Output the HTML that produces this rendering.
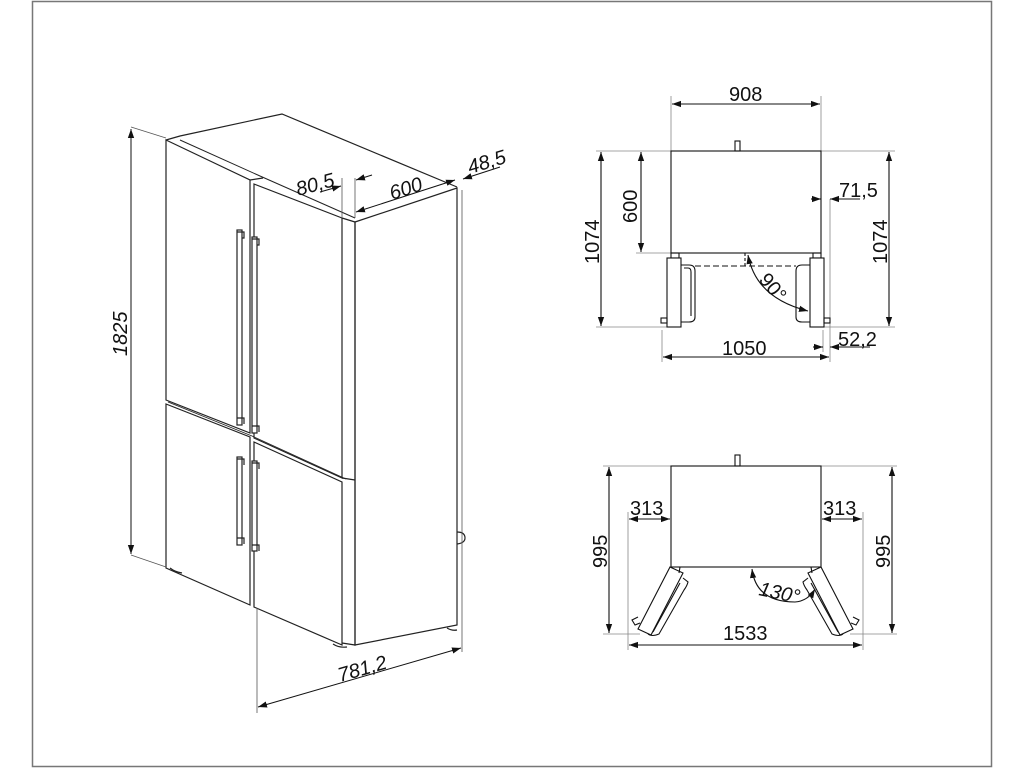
<!DOCTYPE html>
<html><head><meta charset="utf-8"><style>
html,body{margin:0;padding:0;background:#fff;}
svg{display:block;}
text{font-family:"Liberation Sans",Arial,sans-serif;font-size:20px;fill:#111;}
</style></head><body>
<svg width="1024" height="768" viewBox="0 0 1024 768" xmlns="http://www.w3.org/2000/svg">
<defs>
<marker id="a" viewBox="0 0 10 10" refX="10" refY="5" markerWidth="9" markerHeight="9" orient="auto-start-reverse" markerUnits="userSpaceOnUse"><path d="M0,1.5 L10,5 L0,8.5 z" fill="#111"/></marker>
</defs>
<rect x="32.5" y="1.5" width="959" height="765" fill="none" stroke="#777" stroke-width="1.5"/>

<g fill="none" stroke="#222" stroke-width="1.2">
<path d="M166,140 L180,136 L282,114 L457,187"/>
<path d="M180,140 L260,176 M260,176 L355,218" stroke-width="1"/>
<path d="M168,142 L250,180"/>
<path d="M355,222 L457,188 L457,625 L355,645 Z" fill="#fff"/>
<path d="M342,218 L355,222 L355,645 L342,643"/>
<path d="M166,140 L250,180 L250,433 L166,400 Z" fill="#fff"/>
<path d="M254,184 L342,218 L342,478 L254,438 Z" fill="#fff"/>
<path d="M250,180 L263,178"/>
<path d="M166,404 L250,437 L250,605 L166,568 Z" fill="#fff"/>
<path d="M254,442 L342,482 L342,645 L254,607 Z" fill="#fff"/>
<path d="M342,478 L355,480"/>
<path d="M168,402 L252,436 L346,479" stroke-width="0.8"/>
<path d="M170,568 q5,4 12,5 M333,644 q6,4 14,3 M447,628 q5,3 10,2"/>
<path d="M457,532 q8,0 8,6 q0,5 -8,6"/>
<rect x="237" y="230" width="5" height="195" fill="#fff"/>
<path d="M237,232 h7 v6 h-2 M237,418 h7 v6"/>
<rect x="252" y="237" width="5" height="196" fill="#fff"/>
<path d="M252,239 h7 v6 h-2 M252,426 h7 v6"/>
<rect x="237" y="457" width="5" height="88" fill="#fff"/>
<path d="M237,459 h7 v6 M237,538 h7 v6"/>
<rect x="252" y="461" width="5" height="90" fill="#fff"/>
<path d="M252,463 h7 v6 M252,545 h7 v6"/>
</g>
<g stroke="#555" stroke-width="0.8" fill="none">
<path d="M131,127 L166,138 M131,555 L166,567"/>
<path d="M257,608 L257,713 M462,190 L462,652"/>
<path d="M342,218 L342,178 M355,218 L355,178"/>
</g>
<g stroke="#111" stroke-width="1" fill="none">
<line x1="131" y1="129" x2="131" y2="554" marker-start="url(#a)" marker-end="url(#a)"/>
<line x1="258" y1="707" x2="461" y2="648" marker-start="url(#a)" marker-end="url(#a)"/>
<line x1="356" y1="212" x2="455" y2="180" marker-start="url(#a)" marker-end="url(#a)"/>
<line x1="320" y1="192" x2="341" y2="186" marker-end="url(#a)"/>
<line x1="372" y1="175" x2="356" y2="180" marker-end="url(#a)"/>
<line x1="500" y1="167" x2="463" y2="179" marker-end="url(#a)"/>
</g>
<text transform="translate(127,356) rotate(-90)" font-style="italic">1825</text>
<text transform="translate(340,682) rotate(-16)" font-style="italic">781,2</text>
<text transform="translate(392,200) rotate(-18)" font-style="italic">600</text>
<text transform="translate(298,196) rotate(-15)" font-style="italic">80,5</text>
<text transform="translate(470,174) rotate(-17)" font-style="italic" font-size="17">48,5</text>

<g stroke="#888" stroke-width="0.8" fill="none">
<path d="M671,96 V151 M821,96 V151"/>
<path d="M596,151 H671 M821,151 H895"/>
<path d="M636,253 H671"/>
<path d="M596,327 H667 M824,327 H895"/>
<path d="M662,330 V362 M830,199 V362 M823,330 V352"/>
</g>
<g stroke="#111" stroke-width="1.1" fill="none">
<rect x="671" y="151" width="150" height="102" fill="#fff"/>
<rect x="735" y="141" width="5" height="10"/>
<rect x="671" y="253" width="8" height="5"/>
<rect x="813" y="253" width="8" height="5"/>
<rect x="667" y="258" width="14" height="69" fill="#fff"/>
<rect x="810" y="258" width="14" height="69" fill="#fff"/>
<path d="M681,265 h8 q6,0 6,6 v46 q0,5 -6,5 h-8"/>
<path d="M684,268 h4 q3,0 3,4 v44"/>
<path d="M810,265 h-8 q-6,0 -6,6 v46 q0,5 6,5 h8"/>
<rect x="661" y="318" width="6" height="5"/>
<rect x="824" y="318" width="6" height="5"/>
<path d="M695,266 H796" stroke-dasharray="6,3"/>
<path d="M745,253 V266" stroke-dasharray="3,2"/>
<line x1="672" y1="104" x2="820" y2="104" marker-start="url(#a)" marker-end="url(#a)"/>
<line x1="601" y1="152" x2="601" y2="326" marker-start="url(#a)" marker-end="url(#a)"/>
<line x1="641" y1="152" x2="641" y2="252" marker-start="url(#a)" marker-end="url(#a)"/>
<line x1="889" y1="152" x2="889" y2="326" marker-start="url(#a)" marker-end="url(#a)"/>
<line x1="663" y1="357" x2="829" y2="357" marker-start="url(#a)" marker-end="url(#a)"/>
<line x1="811" y1="199" x2="821" y2="199" marker-end="url(#a)"/>
<line x1="860" y1="199" x2="830" y2="199" marker-end="url(#a)"/>
<line x1="813" y1="347" x2="823" y2="347" marker-end="url(#a)"/>
<line x1="870" y1="347" x2="830" y2="347" marker-end="url(#a)"/>
<path d="M748,255 Q756,298 808,311" marker-start="url(#a)" marker-end="url(#a)"/>
</g>
<text x="729" y="101">908</text>
<text transform="translate(599,264) rotate(-90)">1074</text>
<text transform="translate(637,223) rotate(-90)">600</text>
<text transform="translate(887,264) rotate(-90)">1074</text>
<text x="839" y="197">71,5</text>
<text x="722" y="355">1050</text>
<text x="838" y="346">52,2</text>
<text transform="translate(758,280) rotate(50)">90°</text>

<g stroke="#888" stroke-width="0.8" fill="none">
<path d="M603,466 H671 M821,466 H897"/>
<path d="M603,634 H640 M850,634 H897"/>
<path d="M628,512 V650 M863,512 V650"/>
</g>
<g stroke="#111" stroke-width="1.1" fill="none">
<rect x="671" y="466" width="150" height="101" fill="#fff"/>
<rect x="735" y="455" width="5" height="11"/>
<path d="M670,567 L683,573 L651,635 L638,629 Z" fill="#fff"/>
<path d="M676,567 L680,567 L679,573"/>
<path d="M683,578 L688,582 Q687,586 684,590 L659,634 Q652,637 648,634"/>
<path d="M680,583 L653,632"/>
<path d="M638,617 L632,620 L635,625 L640,623"/>
<path d="M821,567 L808,573 L840,635 L853,629 Z" fill="#fff"/>
<path d="M815,567 L811,567 L812,573"/>
<path d="M808,578 L803,582 Q804,586 807,590 L832,634 Q839,637 843,634"/>
<path d="M811,583 L838,632"/>
<path d="M853,617 L859,620 L856,625 L851,623"/>
<line x1="609" y1="467" x2="609" y2="633" marker-start="url(#a)" marker-end="url(#a)"/>
<line x1="892" y1="467" x2="892" y2="633" marker-start="url(#a)" marker-end="url(#a)"/>
<line x1="629" y1="519" x2="670" y2="519" marker-start="url(#a)" marker-end="url(#a)"/>
<line x1="822" y1="519" x2="862" y2="519" marker-start="url(#a)" marker-end="url(#a)"/>
<line x1="629" y1="645" x2="862" y2="645" marker-start="url(#a)" marker-end="url(#a)"/>
<path d="M752,569 Q756,602 795,602 Q808,601 815,589" marker-start="url(#a)" marker-end="url(#a)"/>
</g>
<text transform="translate(607,568) rotate(-90)">995</text>
<text transform="translate(890,568) rotate(-90)">995</text>
<text x="630" y="515">313</text>
<text x="823" y="515">313</text>
<text x="723" y="640">1533</text>
<text transform="translate(758,595) rotate(12)" font-style="italic">130°</text>
</svg>
</body></html>
